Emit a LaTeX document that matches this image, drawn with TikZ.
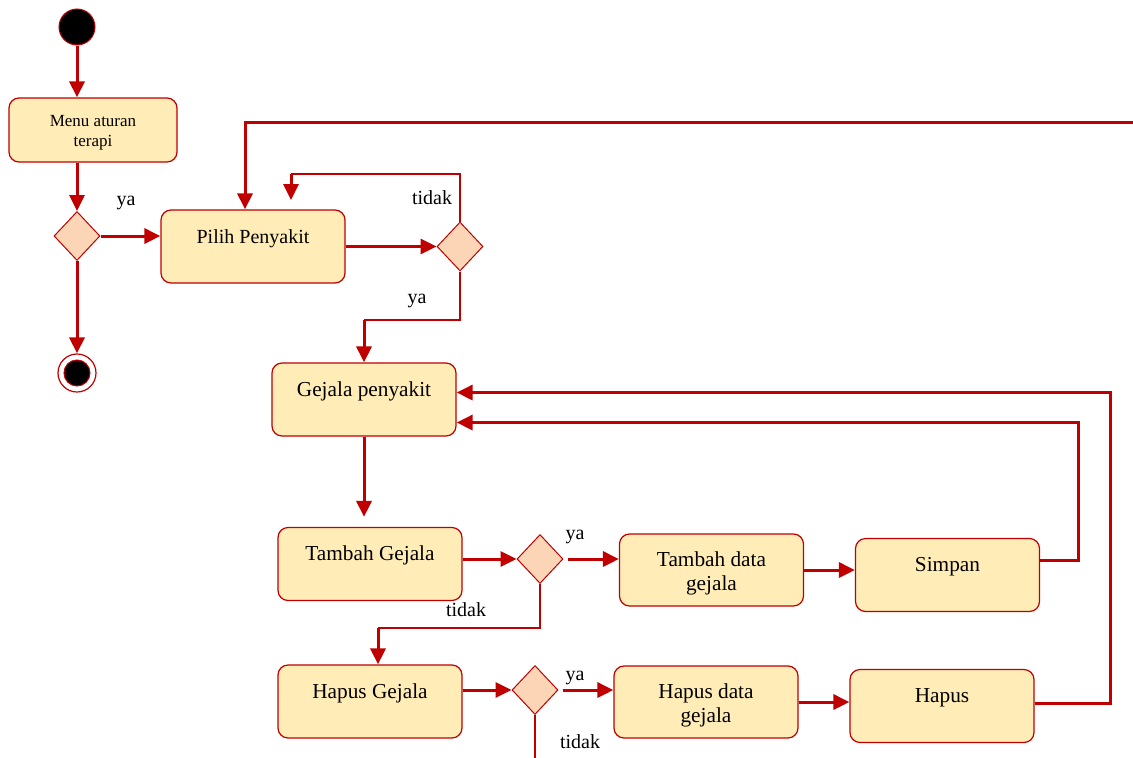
\documentclass[tikz,border=0pt]{standalone}
\usepackage{fontspec}
\setmainfont{Liberation Serif}
\usepackage{tikz}
\usetikzlibrary{arrows.meta}
\usetikzlibrary{shapes.geometric}

\definecolor{flowred}{RGB}{192,0,0}
\definecolor{boxfill}{RGB}{255,236,182}
\definecolor{decfill}{RGB}{251,213,181}

\tikzset{
    box/.style = {draw = flowred, line width = 1.2pt, fill = boxfill, rounded corners = 10pt, minimum width = 184pt, inner sep = 0pt, text height = 33pt, text depth = 40pt, font = \fontsize{21.3}{24}\selectfont},
    box2/.style = {box, align = center, text height = 56pt, text depth = 16pt},
    decision/.style = {diamond, draw = flowred, line width = 1pt, fill = decfill, minimum width = 46pt, minimum height = 49pt, inner sep = 0pt},
    flow/.style = {draw = flowred, line width = 3pt, -{Triangle[length = 16pt, width = 15pt]}},
    branch/.style = {draw = flowred, line width = 1.4pt},
    lbl/.style = {font = \fontsize{20}{24}\selectfont, inner sep = 0pt},
}

\begin{document}
\begin{tikzpicture}[x = 1pt, y = -1pt]
    \useasboundingbox (0, 0) rectangle (1133, 758);

    % start / stop
    \node [circle, draw = flowred, line width = 1pt, fill = black, minimum size = 36pt, inner sep = 0pt] (start) at (77, 27) {};
    \node [circle, draw = flowred, line width = 1.2pt, fill = white, minimum size = 38pt, inner sep = 0pt] (stop) at (77, 373) {};
    \node [circle, draw = flowred, line width = 1pt, fill = black, minimum size = 26pt, inner sep = 0pt] (stopdot) at (77, 373) {};

    % activities
    \node [box2, minimum width = 168pt, text height = 48pt, text depth = 16pt, font = \fontsize{17}{20}\selectfont] (menu) at (93, 130) {Menu aturan\\terapi};
    \node [box, font = \fontsize{20}{24}\selectfont] (pilih) at (253, 246.5) {Pilih Penyakit};
    \node [box] (gejala) at (364, 399.5) {Gejala penyakit};
    \node [box] (tambah) at (370, 564) {Tambah Gejala};
    \node [box2] (tdata) at (711.5, 570) {Tambah data\\gejala};
    \node [box] (simpan) at (947.5, 575) {Simpan};
    \node [box] (hgejala) at (370, 701.5) {Hapus Gejala};
    \node [box2] (hdata) at (706, 702) {Hapus data\\gejala};
    \node [box] (hapus) at (942, 706) {Hapus};

    % decisions
    \foreach \n\x\y in {d1/77/236, d2/460/246.5, d3/540/559, d4/535/690} {
        \node [decision] (\n) at (\x, \y) {};
    }

    % guard labels
    \foreach \n\x\y\t in {lya1/126/203/ya, ltidak1/432/198/tidak, lya2/417/301/ya, lya3/575/537/ya, ltidak2/466/610/tidak, lya4/575/678/ya, ltidak3/580/742/tidak} {
        \node [lbl] (\n) at (\x, \y) {\t};
    }

    \coordinate (edge) at (1133, 122);
    \coordinate (loopin) at (291, 200);
    \coordinate (tail) at (535, 758);

    % flows
    \draw [flow] (start.south) -- (start.south |- menu.north);
    \draw [flow] (start |- menu.south) -- (d1.north);
    \draw [flow] (d1.east) -- (d1.east -| pilih.west);
    \draw [flow] (d1.south) -- (stop.north);
    \draw [flow] (edge) -| ([xshift = -8pt]pilih.north);
    \draw [flow] (pilih.east |- d2) -- (d2.west);
    \draw [branch] (d2.north) |- (loopin |- 0, 174) coordinate (tidakbend);
    \draw [flow] (tidakbend) -- (loopin);
    \draw [branch] (d2.south) |- (gejala.north |- 0, 320) coordinate (yabend);
    \draw [flow] (yabend) -- (gejala.north);
    \draw [flow] (gejala.south) -- ([yshift = 10pt]gejala.south |- tambah.north);
    \draw [flow] (tambah.east |- d3) -- (d3.west);
    \draw [flow] ([xshift = 4pt]d3.east) -- (d3 -| tdata.west);
    \draw [flow] (tdata.east) -- (tdata.east -| simpan.west);
    \draw [flow] ([yshift = 15pt]simpan.east) -- ++(38, 0) |- ([yshift = -23pt]gejala.east);
    \draw [branch] (d3.south) |- ([xshift = 8pt]hgejala.north |- 0, 628) coordinate (tidakbend2);
    \draw [flow] (tidakbend2) -- ([xshift = 8pt]hgejala.north);
    \draw [flow] (hgejala.east |- d4) -- (d4.west);
    \draw [flow] ([xshift = 4pt]d4.east) -- (d4 -| hdata.west);
    \draw [flow] (hdata.east) -- (hdata.east -| hapus.west);
    \draw [flow] ([yshift = 3pt]hapus.east) -- ++(76, 0) |- ([yshift = 7pt]gejala.east);
    \draw [draw = flowred, line width = 2pt] (d4.south) -- (tail);
\end{tikzpicture}
\end{document}
